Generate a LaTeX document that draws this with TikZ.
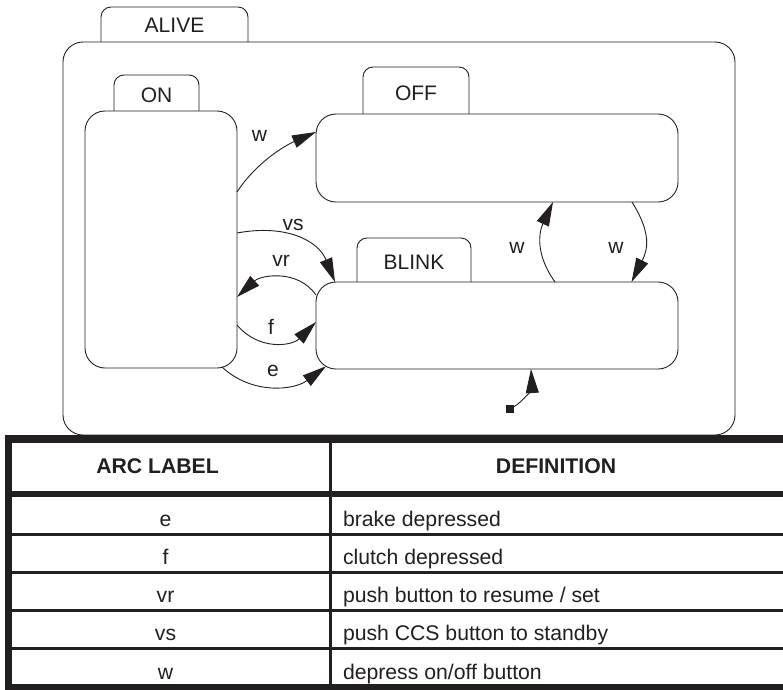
\documentclass[tikz,border=0pt]{standalone}
\usepackage{fontspec}
\setmainfont{Liberation Sans}
\usetikzlibrary{arrows.meta}
\definecolor{ink}{RGB}{35,31,32}
\newcommand\diagsize{\fontsize{21}{25}\selectfont}
\newcommand\tablesize{\fontsize{21.2}{25}\selectfont}
\begin{document}
\begin{tikzpicture}[x=1pt,y=-1pt,
  every node/.style={inner sep=0pt,outer sep=0pt,text=ink},
  statebox/.style={draw=ink,line width=0.9pt,fill=white,rounded corners=20pt,rectangle},
  tabbox/.style={draw=ink,line width=0.9pt,fill=white,rounded corners=10pt,anchor=north,
                 text height=#1,text depth=30pt,font=\diagsize},
  transition/.style={draw=ink,line width=0.9pt,-{Triangle[length=24pt,width=13pt]}},
  arclabel/.style={font=\diagsize},
  startdot/.style={fill=ink,minimum size=7.5pt,rectangle},
  tableline/.style={draw=ink,line width=#1},
  headtext/.style={font=\tablesize\bfseries,anchor=base},
  celltext/.style={font=\tablesize,anchor=base},
  deftext/.style={font=\tablesize,anchor=base west},
]
\useasboundingbox (0,0) rectangle (783,689);
\fill[white] (0,0) rectangle (783,689);

% statechart: each tab is drawn first, then its box covers the tab's lower part
\node[tabbox=25pt,minimum width=147pt] (alivetab) at (174.5,7) {ALIVE};
\node[statebox,minimum width=672pt,minimum height=393pt] (alive) at (399,238.5) {};
\node[tabbox=27pt,minimum width=85pt] (ontab) at (156.5,75) {ON};
\node[statebox,minimum width=152pt,minimum height=257pt] (on) at (161,239.5) {};
\node[tabbox=33pt,minimum width=106pt] (offtab) at (416,67) {OFF};
\node[statebox,minimum width=362pt,minimum height=88pt] (off) at (497,158) {};
\node[tabbox=31pt,minimum width=114pt] (blinktab) at (414,238) {BLINK};
\node[statebox,minimum width=362pt,minimum height=87pt] (blink) at (497,325.5) {};

% transitions
\draw[transition] ([yshift=47.5pt]on.east) .. controls +(19,-29) and +(-32,14) .. ([yshift=26pt]off.west);
\draw[transition] ([yshift=6.5pt]on.east) .. controls +(48,-9) and +(-17,-42) .. ([xshift=19pt]blink.north west);
\draw[transition] ([yshift=30.5pt]blink.west) .. controls +(-18,-26) and +(24,-22) .. ([yshift=-57.5pt]on.east);
\draw[transition] ([yshift=-85.5pt]on.east) .. controls +(22,26) and +(-24,24) .. ([yshift=3.5pt]blink.west);
\draw[transition] ([xshift=-15pt,yshift=1pt]on.south east) .. controls +(30,28) and +(-32,24) .. ([xshift=10pt,yshift=2.7pt]blink.south west);
\draw[transition] ([xshift=58pt]blink.north) .. controls +(-20,-28) and +(-14,30) .. ([xshift=56pt]off.south);
\draw[transition] ([xshift=135pt]off.south) .. controls +(20,32) and +(16,-32) .. ([xshift=134.5pt]blink.north);
\node[startdot] (init) at (510,409) {};
\draw[transition] (init) .. controls +(14,-8) and +(1,18) .. ([xshift=34pt]blink.south);

% transition labels
\node[arclabel] (lw1) at (259.5,136) {w};
\node[arclabel] (lvs) at (293,225) {vs};
\node[arclabel] (lvr) at (281,260.5) {vr};
\node[arclabel] (lf) at (271,327) {f};
\node[arclabel] (le) at (273,370.5) {e};
\node[arclabel] (lw2) at (517,248) {w};
\node[arclabel] (lw3) at (616,248) {w};

% legend table
\draw[tableline=8pt] (5,439) -- (783,439);
\draw[tableline=7pt] (8.5,435) -- (8.5,689);
\draw[tableline=6pt] (5,494) -- (783,494);
\foreach \y in {534,572,610.5,648.5} \draw[tableline=3pt] (5,\y) -- (783,\y);
\draw[tableline=6pt] (5,687) -- (783,687);
\draw[tableline=3pt] (330.5,443) -- (330.5,684);

\node[headtext] (hlabel) at (157.5,473.5) {ARC LABEL};
\node[headtext] (hdef) at (556,473.5) {DEFINITION};

\node[celltext] (arc1) at (165.5,526) {e};
\node[deftext] (def1) at (343,526) {brake depressed};
\node[celltext] (arc2) at (165.5,564) {f};
\node[deftext] (def2) at (343,564) {clutch depressed};
\node[celltext] (arc3) at (165.5,602.5) {vr};
\node[deftext] (def3) at (343,602.5) {push button to resume / set};
\node[celltext] (arc4) at (165.5,640.5) {vs};
\node[deftext] (def4) at (343,640.5) {push CCS button to standby};
\node[celltext] (arc5) at (165.5,679) {w};
\node[deftext] (def5) at (343,679) {depress on/off button};
\end{tikzpicture}
\end{document}
